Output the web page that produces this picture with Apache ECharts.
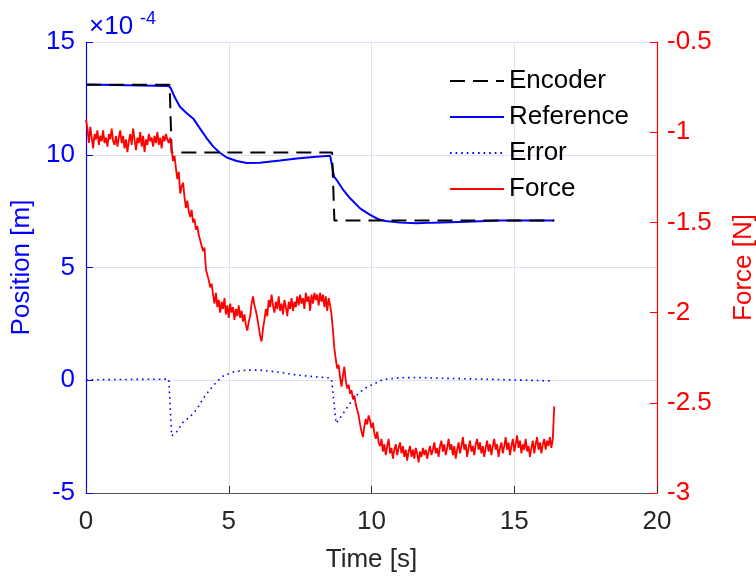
<!DOCTYPE html>
<html>
<head>
<meta charset="utf-8">
<script src="https://cdn.jsdelivr.net/npm/echarts@6/dist/echarts.min.js"></script>
<style>html,body{margin:0;padding:0;background:#fff}#c{width:756px;height:578px}</style>
</head>
<body>
<div id="c"></div>
<script>
// Position values are in units of 1e-4 m
const encoderTime = [0, 2.93, 3.0, 8.62, 8.70, 16.4];
const encoderPos = [13.1, 13.1, 10.1, 10.1, 7.08, 7.08];

const referenceTime = [0, 2.9, 2.97, 3.1, 3.29, 3.53, 3.76, 3.99, 4.23, 4.46, 4.69, 4.93, 5.28, 5.63, 6.09, 6.8, 7.38, 7.96, 8.55, 8.62, 8.69, 8.78, 9.01, 9.25, 9.6, 9.95, 10.24, 10.5, 11.0, 11.58, 12.16, 13.33, 14.5, 16.4];
const referencePos = [13.12, 13.05, 12.95, 12.57, 12.13, 11.84, 11.6, 11.17, 10.73, 10.36, 10.09, 9.88, 9.72, 9.63, 9.65, 9.74, 9.83, 9.9, 9.96, 9.98, 9.03, 8.88, 8.44, 8.07, 7.62, 7.33, 7.14, 7.06, 6.99, 6.96, 6.99, 7.03, 7.08, 7.08];

const errorTime = [0, 2.9, 2.95, 3.0, 3.18, 3.41, 3.64, 3.88, 4.11, 4.35, 4.58, 4.81, 5.16, 5.63, 6.09, 6.8, 7.38, 7.96, 8.49, 8.6, 8.76, 9.01, 9.25, 9.54, 9.83, 10.12, 10.41, 11.0, 11.58, 12.75, 13.92, 15.09, 16.37];
const errorPos = [0.02, 0.05, 0.0, -2.47, -2.28, -1.84, -1.62, -1.29, -0.8, -0.4, -0.06, 0.19, 0.37, 0.45, 0.45, 0.35, 0.23, 0.16, 0.11, 0.05, -1.91, -1.47, -1.02, -0.58, -0.31, -0.14, 0.04, 0.11, 0.12, 0.08, 0.05, 0.01, -0.03];

// Force samples every 0.05 s from t = 0 to 16.4 s (one row per second)
const forceStep = 0.05;
const forceValues = [
 -0.93,-0.98,-1.06,-0.97,-1.03,-1.09,-1.01,-1.04,-0.99,-1.07,-1.02,-1.05,-0.99,-1.06,-1.03,-1.08,-1.01,-1.04,-0.98,-1.05,
 -1.07,-1.02,-1.08,-1.03,-0.99,-1.06,-1.02,-1.09,-1.04,-1.11,-1.05,-1.01,-1.07,-0.98,-1.04,-1.10,-1.03,-1.06,-1.00,-1.08,
 -1.02,-1.11,-1.04,-1.07,-1.01,-1.05,-1.03,-1.08,-1.02,-1.06,-1.00,-1.07,-1.03,-1.09,-1.02,-1.05,-1.01,-1.04,-1.06,-1.03,
 -1.10,-1.16,-1.13,-1.20,-1.26,-1.22,-1.34,-1.30,-1.28,-1.36,-1.42,-1.38,-1.44,-1.47,-1.43,-1.50,-1.48,-1.54,-1.52,-1.57,
 -1.56,-1.63,-1.66,-1.64,-1.76,-1.79,-1.82,-1.86,-1.84,-1.90,-1.95,-1.89,-1.97,-1.93,-2.00,-1.94,-1.98,-1.92,-2.01,-1.96,
 -2.03,-1.95,-2.00,-1.97,-2.04,-1.98,-2.02,-1.96,-2.03,-1.99,-2.05,-2.01,-2.07,-2.10,-2.05,-2.02,-1.95,-1.91,-1.96,-1.99,
 -2.03,-2.08,-2.13,-2.16,-2.09,-2.04,-1.98,-2.02,-1.93,-1.97,-1.90,-1.96,-2.00,-1.94,-1.98,-1.91,-1.99,-1.95,-2.01,-1.93,
 -1.97,-2.02,-1.94,-1.98,-1.92,-1.99,-1.94,-1.97,-1.91,-1.96,-1.90,-1.95,-1.92,-1.98,-1.89,-1.94,-1.91,-1.99,-1.90,-1.95,
 -1.89,-1.93,-1.90,-1.96,-1.89,-1.94,-1.90,-1.97,-1.91,-1.99,-1.92,-1.96,-2.01,-2.10,-2.20,-2.26,-2.31,-2.29,-2.36,-2.41,
 -2.35,-2.30,-2.38,-2.42,-2.40,-2.45,-2.43,-2.48,-2.46,-2.51,-2.54,-2.57,-2.62,-2.66,-2.69,-2.63,-2.59,-2.62,-2.57,-2.60,
 -2.64,-2.61,-2.67,-2.70,-2.66,-2.72,-2.74,-2.70,-2.77,-2.73,-2.79,-2.74,-2.70,-2.78,-2.75,-2.81,-2.76,-2.73,-2.79,-2.75,
 -2.72,-2.78,-2.74,-2.80,-2.76,-2.82,-2.77,-2.74,-2.80,-2.76,-2.81,-2.75,-2.78,-2.83,-2.77,-2.80,-2.75,-2.79,-2.76,-2.81,
 -2.77,-2.74,-2.79,-2.76,-2.72,-2.78,-2.75,-2.80,-2.74,-2.71,-2.77,-2.73,-2.79,-2.75,-2.70,-2.76,-2.73,-2.79,-2.74,-2.81,
 -2.76,-2.72,-2.78,-2.74,-2.69,-2.76,-2.73,-2.80,-2.75,-2.71,-2.77,-2.74,-2.79,-2.73,-2.70,-2.76,-2.72,-2.78,-2.74,-2.80,
 -2.75,-2.71,-2.77,-2.73,-2.79,-2.74,-2.70,-2.76,-2.73,-2.80,-2.75,-2.72,-2.78,-2.74,-2.69,-2.76,-2.72,-2.79,-2.74,-2.70,
 -2.77,-2.73,-2.68,-2.75,-2.71,-2.78,-2.73,-2.76,-2.70,-2.77,-2.74,-2.80,-2.75,-2.71,-2.78,-2.73,-2.69,-2.76,-2.72,-2.78,
 -2.73,-2.70,-2.76,-2.71,-2.74,-2.69,-2.75,-2.70,-2.52
];

const xTicks = [0, 5, 10, 15, 20];
const leftTicks = [-5, 0, 5, 10, 15];
const rightTicks = [-3, -2.5, -2, -1.5, -1, -0.5];

const pairs = (t, v) => t.map((x, i) => [x, v[i]]);
const forceData = forceValues.map((v, i) => [+(i * forceStep).toFixed(2), v]);

const FONT = '"Liberation Sans", Arial, Helvetica, sans-serif';
const BLUE = '#0000ff', RED = '#ff0000', DARK = '#262626';

const chart = echarts.init(document.getElementById('c'), null, {renderer: 'canvas'});
chart.setOption({
  animation: false,
  backgroundColor: '#fff',
  textStyle: {fontFamily: FONT},
  grid: {left: 86, right: 99, top: 42, bottom: 85, containLabel: false, outerBoundsMode: 'none'},
  legend: {
    orient: 'vertical', left: 444, top: 63, itemWidth: 54, itemHeight: 14, itemGap: 10,
    itemStyle: {opacity: 0},
    textStyle: {fontSize: 26, color: '#000', fontFamily: FONT},
    data: ['Encoder', 'Reference', 'Error', 'Force']
  },
  xAxis: {
    type: 'value', min: xTicks[0], max: xTicks[xTicks.length - 1], interval: 5,
    name: 'Time [s]', nameLocation: 'middle', nameGap: 54,
    nameTextStyle: {fontSize: 26, color: DARK, fontFamily: FONT},
    axisLine: {onZero: false, lineStyle: {color: '#555', width: 1.2}},
    axisTick: {inside: true, length: 7, lineStyle: {color: DARK}},
    axisLabel: {fontSize: 26, color: DARK, margin: 16, fontFamily: FONT},
    splitLine: {show: true, lineStyle: {color: '#e2e2e2', width: 1}}
  },
  yAxis: [{
    type: 'value', position: 'left', min: leftTicks[0], max: leftTicks[leftTicks.length - 1], interval: 5,
    name: 'Position [m]', nameLocation: 'middle', nameGap: 40, nameRotate: 90,
    nameTextStyle: {fontSize: 26, color: BLUE, fontFamily: FONT},
    axisLine: {show: true, onZero: false, lineStyle: {color: BLUE, width: 1.2}},
    axisTick: {show: true, inside: true, length: 7, lineStyle: {color: BLUE}},
    axisLabel: {fontSize: 26, color: BLUE, margin: 11, fontFamily: FONT},
    splitLine: {show: true, lineStyle: {color: 'rgba(0,0,255,0.13)', width: 1}}
  }, {
    type: 'value', position: 'right', min: rightTicks[0], max: rightTicks[rightTicks.length - 1], interval: 0.5,
    name: 'Force [N]', nameLocation: 'middle', nameGap: 74, nameRotate: 90,
    nameTextStyle: {fontSize: 26, color: RED, fontFamily: FONT},
    axisLine: {show: true, onZero: false, lineStyle: {color: RED, width: 1.2}},
    axisTick: {show: true, inside: true, length: 7, lineStyle: {color: RED}},
    axisLabel: {fontSize: 26, color: RED, margin: 10, fontFamily: FONT},
    splitLine: {show: false}
  }],
  graphic: [
    {type: 'text', left: 89, top: 14, style: {text: '×10', fontSize: 26, fill: BLUE, fontFamily: FONT}},
    {type: 'text', left: 140, top: 10, style: {text: '-4', fontSize: 18, fill: BLUE, fontFamily: FONT}}
  ],
  series: [
    {name: 'Reference', type: 'line', yAxisIndex: 0, data: pairs(referenceTime, referencePos), symbol: 'none', smooth: false,
     lineStyle: {color: BLUE, width: 2}, itemStyle: {color: BLUE}, z: 3},
    {name: 'Encoder', type: 'line', yAxisIndex: 0, data: pairs(encoderTime, encoderPos), symbol: 'none',
     lineStyle: {color: '#000', width: 2, type: [15, 8]}, itemStyle: {color: '#000'}, z: 4},
    {name: 'Error', type: 'line', yAxisIndex: 0, data: pairs(errorTime, errorPos), symbol: 'none',
     lineStyle: {color: BLUE, width: 1.6, type: [1.6, 4]}, itemStyle: {color: BLUE}, z: 3},
    {name: 'Force', type: 'line', yAxisIndex: 1, data: forceData, symbol: 'none',
     lineStyle: {color: RED, width: 1.8}, itemStyle: {color: RED}, z: 5}
  ]
});
</script>
</body>
</html>
